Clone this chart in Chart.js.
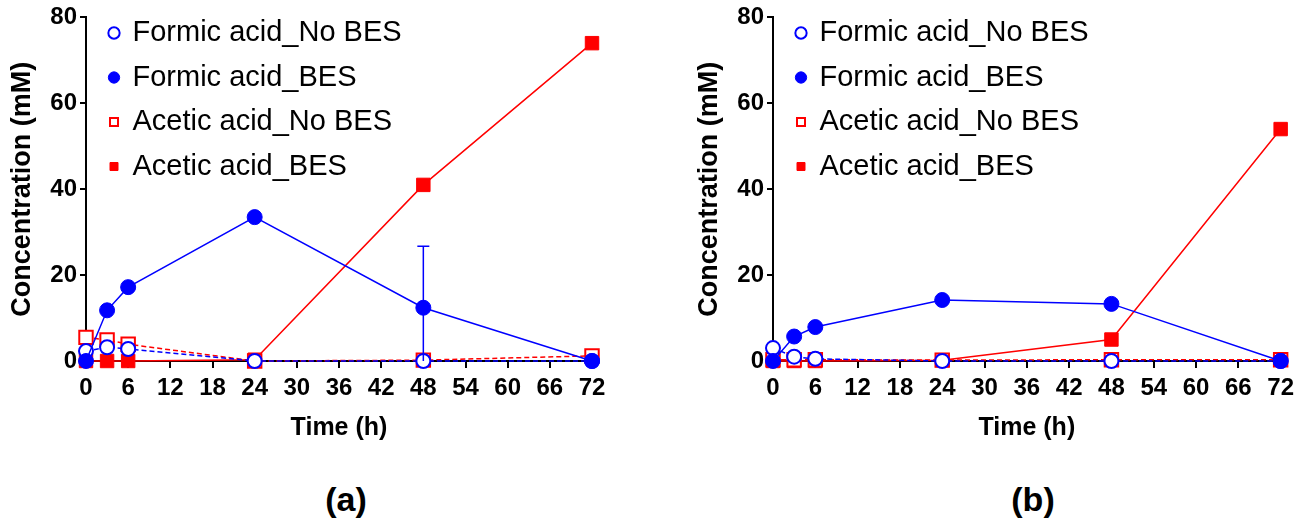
<!DOCTYPE html>
<html>
<head>
<meta charset="utf-8">
<script src="https://cdn.jsdelivr.net/npm/chart.js@4"></script>
<style>
  body { margin: 0; background: #fff; width: 1300px; height: 523px; position: relative; overflow: hidden; font-family: "Liberation Sans", Arial, sans-serif; }
  canvas { position: absolute; top: 0; }
  .panel { position: absolute; top: 480px; font-weight: bold; font-size: 34px; transform: translateX(-50%); }
</style>
</head>
<body>
<canvas id="chartA" width="650" height="443" style="left:0"></canvas>
<canvas id="chartB" width="613" height="443" style="left:687px"></canvas>
<div class="panel" style="left:346px">(a)</div>
<div class="panel" style="left:1033px">(b)</div>

<script>
// sampling times (h)
const hours = [0, 3, 6, 24, 48, 72];
const timeTicks = [0, 6, 12, 18, 24, 30, 36, 42, 48, 54, 60, 66, 72];
const concTicks = [0, 20, 40, 60, 80];
const seriesNames = ["Formic acid_No BES", "Formic acid_BES", "Acetic acid_No BES", "Acetic acid_BES"];

// panel (a)
const formicNoBesA = [2.3, 3.2, 2.8, 0, 0, 0];
const formicBesA = [0, 11.8, 17.2, 33.5, 12.4, 0];
const formicBesErrA = [0, 0, 0, 0, 14.3, 0];
const aceticNoBesA = [5.5, 4.9, 3.9, 0, 0.2, 1.2];
const aceticBesA = [0, 0, 0, 0.3, 41, 74];

// panel (b)
const formicNoBesB = [3.0, 1.0, 0.5, 0, 0, 0];
const formicBesB = [0, 5.7, 7.9, 14.2, 13.3, 0];
const aceticNoBesB = [0.3, 0.3, 0.3, 0.2, 0.3, 0.3];
const aceticBesB = [0, 0, 0, 0.2, 5.0, 54];

const BLUE = "#0000ff";
const RED = "#ff0000";

Chart.defaults.font.family = '"Liberation Sans", Arial, sans-serif';
Chart.defaults.color = "#000";

function pts(vals) {
  return hours.map((h, i) => ({ x: h, y: vals[i] }));
}

// vertical error bars from the dataset's "errors" array
const errorBars = {
  id: "errorBars",
  afterDatasetsDraw(chart) {
    const { ctx, scales } = chart;
    chart.data.datasets.forEach((ds) => {
      if (!ds.errors) return;
      ds.errors.forEach((e, j) => {
        if (!e) return;
        const px = scales.x.getPixelForValue(hours[j]);
        const top = scales.y.getPixelForValue(ds.data[j].y + e);
        const low = scales.y.getPixelForValue(Math.max(0, ds.data[j].y - e));
        ctx.save();
        ctx.strokeStyle = ds.borderColor;
        ctx.lineWidth = 1.5;
        ctx.beginPath();
        ctx.moveTo(px, low);
        ctx.lineTo(px, top);
        ctx.moveTo(px - 6, top);
        ctx.lineTo(px + 6, top);
        ctx.stroke();
        ctx.restore();
      });
    });
  },
};

// put the legend at the top left inside the plot
const legendSpot = {
  id: "legendSpot",
  afterLayout(chart) {
    const lg = chart.legend;
    const pad = chart.options.plugins.legend.labels.padding;
    lg.left = chart.chartArea.left + 24 - pad;
    lg.top = 18.5 - pad;
    lg.right = chart.chartArea.right;
    lg.bottom = chart.chartArea.bottom;
  },
};

function makeChart(id, formicNo, formicBes, formicErr, aceticNo, aceticBes, rightPad) {
  new Chart(document.getElementById(id), {
    type: "line",
    data: {
      datasets: [
        {
          label: seriesNames[0],
          data: pts(formicNo),
          borderColor: BLUE,
          backgroundColor: "#fff",
          borderWidth: 1.5,
          borderDash: [5, 3],
          pointStyle: "circle",
          pointRadius: 7,
          pointBorderWidth: 2,
          order: 1,
        },
        {
          label: seriesNames[1],
          data: pts(formicBes),
          errors: formicErr,
          borderColor: BLUE,
          backgroundColor: BLUE,
          borderWidth: 1.5,
          pointStyle: "circle",
          pointRadius: 7.5,
          pointBorderWidth: 1,
          order: 0,
        },
        {
          label: seriesNames[2],
          data: pts(aceticNo),
          borderColor: RED,
          backgroundColor: "#fff",
          borderWidth: 1.5,
          borderDash: [5, 3],
          pointStyle: "rect",
          pointRadius: 9.5,
          pointBorderWidth: 2,
          order: 2,
        },
        {
          label: seriesNames[3],
          data: pts(aceticBes),
          borderColor: RED,
          backgroundColor: RED,
          borderWidth: 1.5,
          pointStyle: "rect",
          pointRadius: 9.5,
          pointBorderWidth: 1,
          order: 3,
        },
      ],
    },
    options: {
      responsive: false,
      animation: false,
      layout: { padding: { top: 12, right: rightPad, bottom: 0, left: 0 } },
      elements: { line: { tension: 0, fill: false } },
      datasets: { line: { clip: false } },
      plugins: {
        tooltip: { enabled: false },
        legend: {
          position: "chartArea",
          align: "start",
          labels: {
            usePointStyle: true,
            boxWidth: 8,
            boxHeight: 8,
            padding: 15.5,
            color: "#000",
            font: { size: 29 },
            sort: (a, b) => a.datasetIndex - b.datasetIndex,
          },
        },
      },
      scales: {
        x: {
          type: "linear",
          min: 0,
          max: 72,
          afterBuildTicks: (s) => { s.ticks = timeTicks.map((v) => ({ value: v })); },
          afterFit: (s) => { s.height = 82; },
          ticks: { font: { size: 24, weight: "bold" }, padding: 6, maxRotation: 0 },
          grid: { drawOnChartArea: false, drawTicks: true, tickLength: 7, color: "#000", lineWidth: 2 },
          border: { color: "#000", width: 2 },
          title: { display: true, text: "Time (h)", font: { size: 25, weight: "bold" }, padding: 0 },
        },
        y: {
          min: 0,
          max: 80,
          afterBuildTicks: (s) => { s.ticks = concTicks.map((v) => ({ value: v })); },
          afterFit: (s) => { s.width = 86; },
          ticks: { font: { size: 24, weight: "bold" }, padding: 3 },
          grid: { drawOnChartArea: false, drawTicks: true, tickLength: 6, color: "#000", lineWidth: 2 },
          border: { color: "#000", width: 2 },
          title: { display: true, text: "Concentration (mM)", font: { size: 27, weight: "bold" }, padding: { top: 6, bottom: 0 } },
        },
      },
    },
    plugins: [errorBars, legendSpot],
  });
}

makeChart("chartA", formicNoBesA, formicBesA, formicBesErrA, aceticNoBesA, aceticBesA, 58);
makeChart("chartB", formicNoBesB, formicBesB, null, aceticNoBesB, aceticBesB, 18);
</script>
</body>
</html>
